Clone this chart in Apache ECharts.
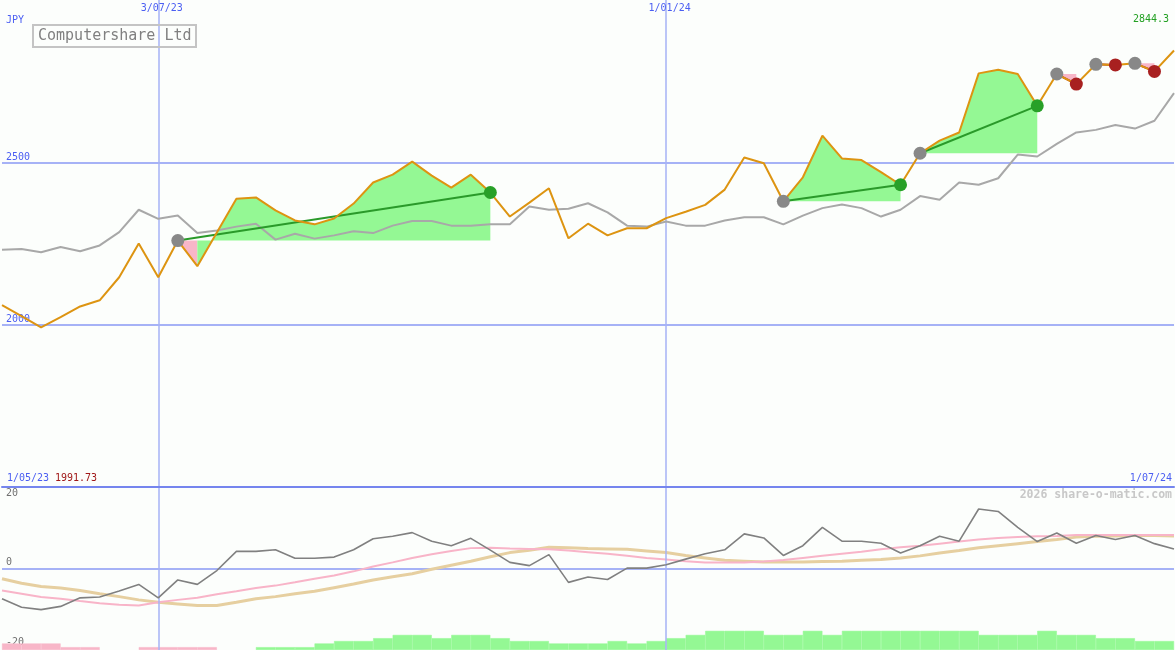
<!DOCTYPE html>
<html><head><meta charset="utf-8">
<script src="https://cdn.jsdelivr.net/npm/echarts@6/dist/echarts.min.js"></script>
<style>html,body{margin:0;padding:0;background:#fcfefc;}#c{width:1175px;height:650px;}</style>
</head><body><div id="c"></div>
<script>
// ---- data ----
const dates = ['2023-05-08','2023-05-15','2023-05-22','2023-05-29','2023-06-05','2023-06-12','2023-06-19','2023-06-26',
 '2023-07-03','2023-07-10','2023-07-17','2023-07-24','2023-07-31','2023-08-07','2023-08-14','2023-08-21','2023-08-28',
 '2023-09-04','2023-09-11','2023-09-18','2023-09-25','2023-10-02','2023-10-09','2023-10-16','2023-10-23','2023-10-30',
 '2023-11-06','2023-11-13','2023-11-20','2023-11-27','2023-12-04','2023-12-11','2023-12-18','2023-12-25',
 '2024-01-01','2024-01-08','2024-01-15','2024-01-22','2024-01-29','2024-02-05','2024-02-12','2024-02-19','2024-02-26',
 '2024-03-04','2024-03-11','2024-03-18','2024-03-25','2024-04-01','2024-04-08','2024-04-15','2024-04-22','2024-04-29',
 '2024-05-06','2024-05-13','2024-05-20','2024-05-27','2024-06-03','2024-06-10','2024-06-17','2024-06-24','2024-07-01'];
const price = [2060,2026,1991.73,2023,2056,2075,2146,2250,2146,2259,2180,2284,2388,2392,2352,2321,2309,2327,2373,2438,
 2462,2502,2459,2422,2462,2407,2333,2376,2420,2266,2311,2275,2297,2297,2328,2348,2369,2416,2515,2497,
 2380,2454,2582,2512,2507,2470,2431,2528,2567,2592,2774,2785,2772,2674,2772,2741,2802,2800,2805,2780,2844.3];
const average = [2231,2233,2223,2239,2226,2244,2285,2354,2326,2336,2282,2290,2302,2311,2262,2280,2265,2275,2288,2282,
 2305,2319,2319,2305,2305,2309,2309,2364,2354,2357,2374,2346,2305,2302,2318,2305,2305,2321,2331,2331,
 2309,2336,2359,2370,2359,2333,2354,2396,2385,2438,2431,2451,2524,2518,2557,2592,2600,2615,2604,2628,2713];
const oscMain = [-7.4,-9.5,-10.1,-9.3,-7.2,-7.0,-5.5,-3.9,-7.2,-2.8,-3.9,-0.5,4.2,4.2,4.6,2.5,2.5,2.8,4.6,7.3,
 7.9,8.8,6.7,5.6,7.4,4.5,1.5,0.7,3.4,-3.4,-2.1,-2.7,0.1,0.1,0.9,2.3,3.6,4.6,8.5,7.5,
 3.2,5.6,10.1,6.7,6.7,6.2,3.8,5.6,7.9,6.7,14.6,14.0,10.1,6.6,8.7,6.2,8.1,7.1,8.1,6.1,4.8];
const oscFast = [-5.4,-6.2,-7.0,-7.4,-8.0,-8.5,-8.9,-9.1,-8.3,-7.7,-7.2,-6.3,-5.6,-4.8,-4.2,-3.4,-2.5,-1.7,-0.7,0.5,
 1.5,2.6,3.5,4.3,5.0,5.1,4.9,4.8,4.7,4.4,4.0,3.6,3.1,2.6,2.2,1.8,1.5,1.5,1.5,1.7,
 2.1,2.6,3.1,3.6,4.1,4.7,5.2,5.6,6.1,6.6,7.1,7.5,7.7,7.9,8.0,8.2,8.2,8.2,8.2,8.2,8.2];
const oscSlow = [-2.5,-3.6,-4.4,-4.8,-5.4,-6.2,-6.9,-7.7,-8.3,-8.7,-9.1,-9.1,-8.3,-7.4,-6.9,-6.2,-5.6,-4.7,-3.8,-2.8,
 -2.0,-1.3,-0.2,0.8,1.8,2.9,3.9,4.5,5.2,5.1,4.9,4.8,4.7,4.3,3.9,3.2,2.6,2.0,1.8,1.6,
 1.6,1.6,1.7,1.8,2.0,2.2,2.6,3.1,3.8,4.4,5.1,5.6,6.1,6.6,7.1,7.7,7.9,8.0,8.1,8.1,8.0];
const barsUp = [null,null,null,null,null,null,null,null,null,null,null,null,null,0.7,0.7,0.7,1.6,2.2,2.2,2.9,
 3.7,3.7,2.9,3.7,3.7,2.9,2.2,2.2,1.6,1.6,1.6,2.2,1.6,2.2,2.9,3.7,4.7,4.7,4.7,3.7,
 3.7,4.7,3.7,4.7,4.7,4.7,4.7,4.7,4.7,4.7,3.7,3.7,3.7,4.7,3.7,3.7,2.9,2.9,2.2,2.2];
const barsDown = [1.6,1.6,1.6,0.7,0.7,null,null,0.7,0.7,0.7,0.7,null,null,null,null,null,null,null,null,null,
 null,null,null,null,null,null,null,null,null,null,null,null,null,null,null,null,null,null,null,null,
 null,null,null,null,null,null,null,null,null,null,null,null,null,null,null,null,null,null,null,null];
const tradeStart = [9,40,47,54,56,58];
const tradeEnd = [25,46,53,55,57,59];
const dateTicks = ['2023-07-03','2024-01-01'];
const priceTicks = [2000,2500];
const oscTicks = [20,0,-20];

// ---- styling ----
const FONT = '"DejaVu Sans Mono", monospace';
const BLUE = '#4b5ef2';
const GRID_BLUE = '#a6b2f6';
const SEP_BLUE = '#7585ee';
const GREEN_FILL = '#94f894';
const PINK_FILL = '#f8b6c8';
const fmtDate = v => { const p = v.split('-'); return (+p[2]) + '/' + p[1] + '/' + p[0].slice(2); };
const isTick = (i, v) => dateTicks.indexOf(v) >= 0;
const tr = 'rgba(0,0,0,0)';

const tradeData = tradeStart.map((s, k) => [s, price[s], tradeEnd[k]]);

function renderFill(params, api) {
  const s = api.value(0), e = api.value(2);
  const base = price[s];
  const colorOf = j => price[j + 1] >= base ? GREEN_FILL : PINK_FILL;
  const children = [];
  let runStart = s;
  for (let j = s; j < e; j++) {
    const c = colorOf(j);
    if (j === e - 1 || colorOf(j + 1) !== c) {
      const pts = [api.coord([runStart, base])];
      for (let k = runStart; k <= j + 1; k++) pts.push(api.coord([k, price[k]]));
      pts.push(api.coord([j + 1, base]));
      children.push({type: 'polygon', shape: {points: pts}, style: {fill: c}});
      runStart = j + 1;
    }
  }
  return {type: 'group', children};
}
function renderTradeLine(params, api) {
  const s = api.value(0), e = api.value(2);
  const a = api.coord([s, price[s]]), b = api.coord([e, price[e]]);
  const win = price[e] >= price[s];
  return {type: 'line', shape: {x1: a[0], y1: a[1], x2: b[0], y2: b[1]},
    style: {stroke: win ? '#2a9a2a' : '#a82020', lineWidth: 2}};
}

const oscLabel = (show, va, pad) => ({inside: true, margin: 4, verticalAlign: va, color: '#707070',
  fontFamily: FONT, fontSize: 10, padding: pad, formatter: v => v === show ? String(v) : ''});

const chart = echarts.init(document.getElementById('c'), null, {renderer: 'canvas'});
chart.setOption({
  animation: false,
  backgroundColor: '#fcfefc',
  title: {
    text: 'Computershare Ltd', left: 33, top: 25,
    borderColor: '#c4c4c4', borderWidth: 2, padding: [3, 5, 3, 5],
    textStyle: {fontFamily: FONT, fontSize: 15, fontWeight: 'normal', color: '#808080', lineHeight: 16}
  },
  grid: [
    {left: 2, right: 1, top: -1, height: 488},
    {left: 2, right: 1, top: 487, height: 163}
  ],
  xAxis: [
    {type: 'category', gridIndex: 0, data: dates, boundaryGap: false, position: 'top',
     axisLine: {show: false, onZero: false}, axisTick: {show: false},
     axisLabel: {inside: true, margin: 3, interval: isTick, formatter: fmtDate, color: BLUE,
       fontFamily: FONT, fontSize: 10, padding: [0, 0, 0, 7]},
     splitLine: {show: true, interval: isTick, lineStyle: {color: GRID_BLUE, width: 1.5}}},
    {type: 'category', gridIndex: 1, data: dates, boundaryGap: false, position: 'top', z: 5,
     axisLine: {show: true, onZero: false, lineStyle: {color: SEP_BLUE, width: 2}}, axisTick: {show: false},
     axisLabel: {show: false},
     splitLine: {show: true, interval: isTick, lineStyle: {color: GRID_BLUE, width: 1.5}}},
    {type: 'category', gridIndex: 1, data: dates.slice(0, 60), boundaryGap: true, show: false}
  ],
  yAxis: [
    {type: 'value', gridIndex: 0, min: 1500, max: 3000, interval: 500, position: 'left',
     axisLine: {show: false}, axisTick: {show: false},
     axisLabel: {inside: true, margin: 4, verticalAlign: 'bottom', color: BLUE, fontFamily: FONT, fontSize: 10,
       formatter: v => priceTicks.indexOf(v) >= 0 ? String(v) : ''},
     splitLine: {show: true, lineStyle: {color: [tr, GRID_BLUE, GRID_BLUE, tr], width: 2}}},
    {type: 'value', gridIndex: 1, min: -20, max: 20, interval: 20, position: 'left',
     axisLine: {show: false}, axisTick: {show: false}, splitLine: {show: false},
     axisLabel: oscLabel(oscTicks[0], 'top', [1, 0, 0, 0])},
    {type: 'value', gridIndex: 1, min: -20, max: 20, interval: 20, position: 'left',
     axisLine: {show: false}, axisTick: {show: false},
     axisLabel: oscLabel(oscTicks[1], 'bottom', [0, 0, 1, 0]),
     splitLine: {show: true, lineStyle: {color: [tr, GRID_BLUE, tr], width: 2}}},
    {type: 'value', gridIndex: 1, min: 0, max: 40, show: false},
    {type: 'value', gridIndex: 1, min: -20, max: 20, interval: 20, position: 'left',
     axisLine: {show: false}, axisTick: {show: false}, splitLine: {show: false},
     axisLabel: oscLabel(oscTicks[2], 'bottom', [0, 0, 3, 0])}
  ],
  graphic: [
    {type: 'text', left: 6, top: 15, style: {text: 'JPY', font: '10px ' + FONT, fill: BLUE}},
    {type: 'text', right: 6, top: 14, style: {text: price[price.length - 1].toFixed(1), font: '10px ' + FONT, fill: '#22a022'}},
    {type: 'text', left: 7, top: 473, style: {text: '1/05/23', font: '10px ' + FONT, fill: BLUE}},
    {type: 'text', left: 55, top: 473, style: {text: String(Math.min.apply(null, price)), font: '10px ' + FONT, fill: '#a01818'}},
    {type: 'text', right: 3, top: 473, style: {text: '1/07/24', font: '10px ' + FONT, fill: BLUE}},
    {type: 'text', right: 3, top: 489, style: {text: '2026 share-o-matic.com', font: 'bold 11.5px ' + FONT, fill: '#c8c8c8'}}
  ],
  series: [
    {type: 'custom', xAxisIndex: 0, yAxisIndex: 0, z: 1, data: tradeData, renderItem: renderFill, silent: true},
    {type: 'line', xAxisIndex: 0, yAxisIndex: 0, z: 2, data: average, symbol: 'none',
     lineStyle: {color: '#a8a8a8', width: 2}},
    {type: 'custom', xAxisIndex: 0, yAxisIndex: 0, z: 3, data: tradeData, renderItem: renderTradeLine, silent: true},
    {type: 'line', xAxisIndex: 0, yAxisIndex: 0, z: 4, data: price, symbol: 'none',
     lineStyle: {color: '#dd9411', width: 2}},
    {type: 'scatter', xAxisIndex: 0, yAxisIndex: 0, z: 5, symbolSize: 13,
     data: tradeStart.map(i => [i, price[i]]), itemStyle: {color: '#888888', opacity: 1}},
    {type: 'scatter', xAxisIndex: 0, yAxisIndex: 0, z: 5, symbolSize: 13,
     data: tradeEnd.map((e, k) => ({value: [e, price[e]],
       itemStyle: {color: price[e] >= price[tradeStart[k]] ? '#28a028' : '#a82020', opacity: 1}}))},
    {type: 'bar', xAxisIndex: 2, yAxisIndex: 3, stack: 'b', data: barsUp, barWidth: '100%',
     itemStyle: {color: GREEN_FILL, borderColor: GREEN_FILL, borderWidth: 0.5}},
    {type: 'bar', xAxisIndex: 2, yAxisIndex: 3, stack: 'b', data: barsDown, barWidth: '100%',
     itemStyle: {color: PINK_FILL, borderColor: PINK_FILL, borderWidth: 0.5}},
    {type: 'line', xAxisIndex: 1, yAxisIndex: 2, z: 3, data: oscSlow, symbol: 'none',
     lineStyle: {color: '#e6cfa0', width: 3}},
    {type: 'line', xAxisIndex: 1, yAxisIndex: 2, z: 4, data: oscFast, symbol: 'none',
     lineStyle: {color: '#f8b4c8', width: 2}},
    {type: 'line', xAxisIndex: 1, yAxisIndex: 2, z: 5, data: oscMain, symbol: 'none',
     lineStyle: {color: '#808080', width: 1.6}}
  ]
});
</script></body></html>
